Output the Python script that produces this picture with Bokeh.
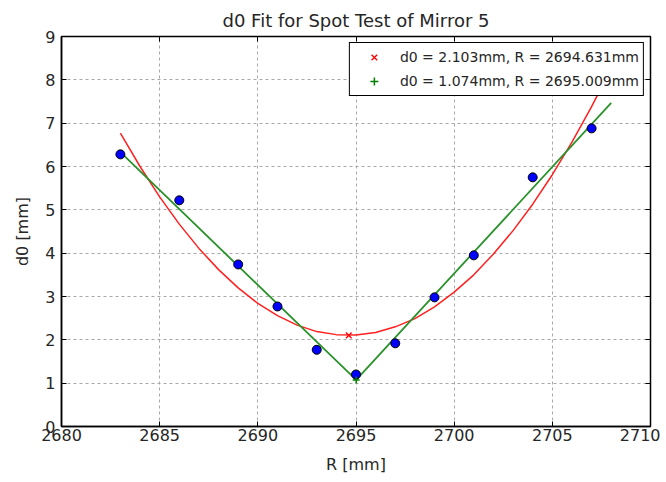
from bokeh.plotting import figure
from bokeh.models import LinearAxis, FixedTicker, Legend, LegendItem, Range1d
from bokeh.embed import file_html
from bokeh.resources import INLINE

# Measured spot data
r_meas = [2683, 2686, 2689, 2691, 2693, 2695, 2697, 2699, 2701, 2704, 2707]
d0_meas = [6.28, 5.22, 3.74, 2.77, 1.77, 1.20, 1.92, 2.98, 3.95, 5.75, 6.88]

# Fit 1 (red curve)
r_fit1 = [2683, 2684, 2685, 2686, 2687, 2688, 2689, 2690, 2691, 2692, 2693, 2694, 2695,
          2696, 2697, 2698, 2699, 2700, 2701, 2702, 2703, 2704, 2705, 2706, 2707, 2708]
d0_fit1 = [6.77, 6.00, 5.30, 4.67, 4.11, 3.62, 3.20, 2.84, 2.56, 2.34, 2.19, 2.12, 2.11,
           2.17, 2.30, 2.49, 2.76, 3.10, 3.50, 3.98, 4.52, 5.13, 5.81, 6.56, 7.38, 8.27]
fit1_min_r = [2694.631]
fit1_min_d0 = [2.103]

# Fit 2 (green V)
r_fit2 = [2683, 2695.009, 2708]
d0_fit2 = [6.33, 1.074, 7.47]
fit2_min_r = [2695.009]
fit2_min_d0 = [1.074]

x_ticks = [2680, 2685, 2690, 2695, 2700, 2705, 2710]
y_ticks = [0, 1, 2, 3, 4, 5, 6, 7, 8, 9]

legend_labels = ["d0 = 2.103mm, R = 2694.631mm", "d0 = 1.074mm, R = 2695.009mm"]

FONT = "DejaVu Sans"

p = figure(width=660, height=476, output_backend="svg", toolbar_location=None,
           x_range=Range1d(2680, 2710), y_range=Range1d(0, 9),
           title="d0 Fit for Spot Test of Mirror 5",
           min_border_left=61, min_border_right=10, min_border_top=36, min_border_bottom=48,
           x_axis_label="R [mm]", y_axis_label="d0 [mm]")

p.title.align = "center"
p.title.text_font = FONT
p.title.text_font_size = "18px"
p.title.text_font_style = "normal"
p.title.text_color = "#262626"
p.title.offset = 0
p.title.standoff = 12

p.outline_line_color = "black"
p.outline_line_width = 1.5
p.outline_line_alpha = 1.0

for ax in (p.xaxis[0], p.yaxis[0]):
    ax.axis_label_text_font = FONT
    ax.axis_label_text_font_size = "16px"
    ax.axis_label_text_font_style = "normal"
    ax.axis_label_text_color = "#262626"
    ax.major_label_text_font = FONT
    ax.major_label_text_font_size = "16px"
    ax.major_label_text_color = "#262626"
    ax.major_tick_in = 5
    ax.major_tick_out = 0
    ax.minor_tick_in = 0
    ax.minor_tick_out = 0
    ax.axis_line_color = "black"
    ax.axis_line_width = 1.5

p.xaxis[0].ticker = FixedTicker(ticks=x_ticks)
p.yaxis[0].ticker = FixedTicker(ticks=y_ticks)
p.xaxis[0].major_label_standoff = 2
p.xaxis[0].axis_label_standoff = 11
p.yaxis[0].major_label_standoff = 6
p.yaxis[0].axis_label_standoff = 10

for loc in ("above", "right"):
    ticks = x_ticks if loc == "above" else y_ticks
    ax = LinearAxis(ticker=FixedTicker(ticks=ticks),
                    major_label_overrides={t: "" for t in ticks},
                    major_tick_in=5, major_tick_out=0,
                    minor_tick_in=0, minor_tick_out=0, axis_line_color="black",
                    major_label_standoff=0)
    p.add_layout(ax, loc)

p.xgrid.ticker = FixedTicker(ticks=x_ticks)
p.ygrid.ticker = FixedTicker(ticks=y_ticks)
p.grid.grid_line_color = "#a8a8a8"
p.grid.grid_line_dash = "3 3"
p.grid.grid_line_width = 1

p.line(r_fit1, d0_fit1, line_color="#ff2020", line_width=1.5, line_join="round")
p.line(r_fit2, d0_fit2, line_color="#2a922a", line_width=1.8)

p.scatter(r_meas, d0_meas, marker="circle", size=9, fill_color="#0000ff",
          line_color="black", line_width=1)

r1 = p.scatter(fit1_min_r, fit1_min_d0, marker="x", size=8, line_color="red", line_width=1.3)
r2 = p.scatter(fit2_min_r, fit2_min_d0, marker="cross", size=7, line_color="green", line_width=1.5)

legend = Legend(items=[LegendItem(label=legend_labels[0], renderers=[r1]),
                       LegendItem(label=legend_labels[1], renderers=[r2])],
                location="top_right")
legend.label_text_font = FONT
legend.label_text_font_size = "14px"
legend.label_text_color = "#262626"
legend.border_line_color = "black"
legend.border_line_width = 1.5
legend.border_line_alpha = 1.0
legend.background_fill_alpha = 1.0
legend.margin = 6
legend.padding = 4
legend.spacing = 4
legend.glyph_width = 40
legend.label_standoff = 6
legend.label_height = 20
p.add_layout(legend)

open("out.html", "w").write(file_html(p, INLINE))
